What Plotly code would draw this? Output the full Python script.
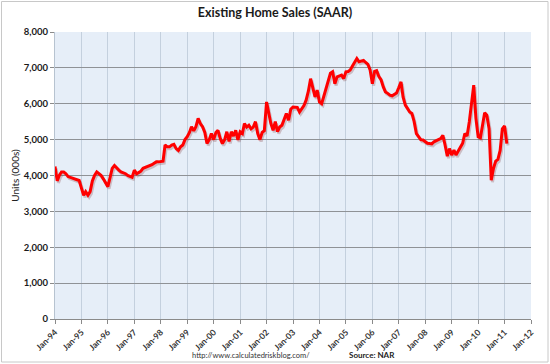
import pandas as pd
import plotly.graph_objects as go

# ---- data (thousands of units, SAAR), monthly from Jan-1994 ----
start_month = "1994-01-01"
sales = [
    4250, 3850, 4000, 4100, 4100, 4050, 3970, 3950, 3920, 3900, 3880, 3860,  # 1994
    3650, 3450, 3550, 3450, 3550, 3850, 4000, 4100, 4050, 4000, 3900, 3800,  # 1995
    3690, 3950, 4200, 4280, 4200, 4150, 4100, 4080, 4050, 4000, 3980, 3950,  # 1996
    4150, 4050, 4080, 4120, 4200, 4220, 4240, 4280, 4300, 4340, 4380, 4380,  # 1997
    4380, 4400, 4850, 4800, 4800, 4850, 4870, 4750, 4700, 4800, 4850, 5000,  # 1998
    5080, 5200, 5360, 5250, 5360, 5590, 5450, 5360, 5200, 4890, 5000, 5170,  # 1999
    5000, 5200, 5260, 5030, 4890, 5000, 5220, 4950, 5220, 5100, 5260, 4990,  # 2000
    5220, 5170, 5450, 5350, 5400, 5300, 5350, 5500, 5170, 5000, 5200, 5250,  # 2001
    6050, 5700, 5450, 5260, 5500, 5220, 5350, 5400, 5550, 5730, 5540, 5850,  # 2002
    5910, 5900, 5900, 5770, 5850, 5950, 6100, 6350, 6700, 6420, 6190, 6380,  # 2003
    6050, 6000, 6200, 6400, 6660, 6850, 6890, 6560, 6750, 6780, 6800, 6700,  # 2004
    6890, 6900, 6940, 7050, 7150, 7260, 7170, 7200, 7210, 7150, 7100, 6940,  # 2005
    6560, 6900, 6920, 6760, 6670, 6470, 6330, 6290, 6240, 6220, 6250, 6300,  # 2006
    6450, 6610, 6190, 5960, 5870, 5770, 5730, 5500, 5170, 5080, 5000, 4990,  # 2007
    4940, 4900, 4890, 4880, 4940, 4960, 5000, 5030, 5120, 4850, 4540, 4750,  # 2008
    4570, 4710, 4570, 4680, 4770, 4900, 5170, 5100, 5500, 6050, 6520, 5600,  # 2009
    5080, 5050, 5360, 5750, 5680, 5300, 3870, 4200, 4400, 4450, 4700, 5300,  # 2010
    5380, 4890,                                                              # 2011
]
tick_years = list(range(1994, 2013))
tick_labels = ["Jan-%02d" % (y % 100) for y in tick_years]
y_ticks = [0, 1000, 2000, 3000, 4000, 5000, 6000, 7000, 8000]

title_text = "Existing Home Sales (SAAR)"
y_title = "Units (000s)"
url_text = "http://www.calculatedriskblog.com/"
source_text = "Source: NAR"

dates = pd.date_range(start_month, periods=len(sales), freq="MS")
tick_dates = [f"{y}-01-01" for y in tick_years]

FONT = "Lato"

fig = go.Figure()
# soft shadow under the line: same data on hidden base axes with a slightly offset range
fig.add_trace(go.Scatter(x=dates, y=sales, mode="lines",
                         line=dict(color="rgba(110,20,20,0.22)", width=3),
                         xaxis="x", yaxis="y", hoverinfo="skip",
                         showlegend=False))
# main red line on the visible (overlaying) axes
fig.add_trace(go.Scatter(x=dates, y=sales, mode="lines",
                         line=dict(color="#FF0000", width=3),
                         xaxis="x2", yaxis="y2", showlegend=False,
                         name="Existing Home Sales"))

xr = ["1994-01-01", "2012-01-01"]
xr_shift = ["1993-12-15", "2011-12-15"]
yr = [0, 8000]
yr_shift = [55, 8055]

fig.update_layout(
    width=550, height=364,
    margin=dict(l=55, r=19, t=32, b=45),
    paper_bgcolor="white",
    plot_bgcolor="#E6EEF8",
    font=dict(family=FONT, color="#222"),
    title=dict(text=f"<b>{title_text}</b>", x=0.5, xref="container",
               y=1 - 13 / 364, yref="container", yanchor="middle",
               xanchor="center", font=dict(size=12.5, color="#1a1a1a", family=FONT)),
    xaxis=dict(type="date", range=xr_shift, visible=False, fixedrange=True),
    yaxis=dict(range=yr_shift, visible=False, fixedrange=True),
    xaxis2=dict(type="date", range=xr, overlaying="x", anchor="y2",
                tickvals=tick_dates, ticktext=tick_labels,
                tickangle=-45, showgrid=True, gridcolor="#C4D0DE", gridwidth=1,
                ticks="outside", ticklen=4, tickcolor="#8a8a8a",
                showline=True, linecolor="#8a8a8a", linewidth=1,
                tickfont=dict(size=8.5, color="#333", family=FONT, weight="bold"),
                zeroline=False, fixedrange=True),
    yaxis2=dict(range=yr, overlaying="y", anchor="x2", side="left",
                tickvals=y_ticks, tickformat=",d",
                showgrid=True, gridcolor="#8F9296", gridwidth=1,
                ticks="outside", ticklen=4, tickcolor="#8a8a8a",
                showline=True, linecolor="#B7C3D0", linewidth=1,
                tickfont=dict(size=9.5, color="#1a1a1a", family=FONT, weight="bold"),
                title=dict(text=y_title, standoff=2,
                           font=dict(size=10, color="#222", family=FONT)),
                zeroline=False, fixedrange=True),
    annotations=[
        dict(text=url_text, xref="paper", yref="paper",
             x=(251 - 55) / 476, y=(319 - 355) / 287, showarrow=False,
             xanchor="center", yanchor="middle",
             font=dict(size=7.5, color="#333", family=FONT)),
        dict(text=f"<b>{source_text}</b>", xref="paper", yref="paper",
             x=(372 - 55) / 476, y=(319 - 355) / 287, showarrow=False,
             xanchor="center", yanchor="middle",
             font=dict(size=8, color="#222", family=FONT)),
    ],
    shapes=[
        dict(type="rect", xref="paper", yref="paper",
             x0=(1.5 - 55) / 476, x1=(548 - 55) / 476,
             y0=(319 - 362) / 287, y1=(319 - 1.5) / 287,
             line=dict(color="#C8C8C8", width=1), fillcolor="rgba(0,0,0,0)",
             layer="below"),
    ],
)

fig.write_html("out.html", config={"displayModeBar": False},
               post_script="document.body.style.margin='0px';document.body.style.overflow='hidden';")
